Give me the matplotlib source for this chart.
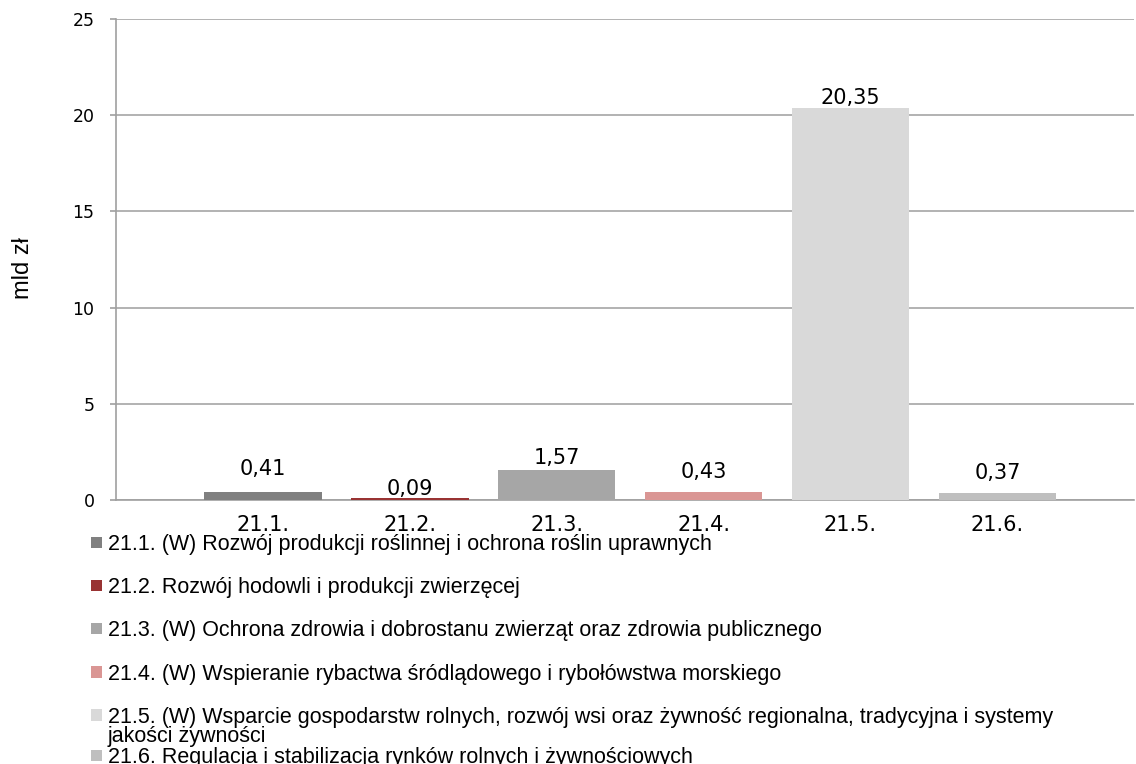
import matplotlib.pyplot as plt
from matplotlib.patches import Patch

codes = ["21.1.", "21.2.", "21.3.", "21.4.", "21.5.", "21.6."]
values = [0.41, 0.09, 1.57, 0.43, 20.35, 0.37]
value_labels = ["0,41", "0,09", "1,57", "0,43", "20,35", "0,37"]
legend_labels = [
	"21.1. (W) Rozwój produkcji roślinnej i ochrona roślin uprawnych",
	"21.2. Rozwój hodowli i produkcji zwierzęcej",
	"21.3. (W) Ochrona zdrowia i dobrostanu zwierząt oraz zdrowia publicznego",
	"21.4. (W) Wspieranie rybactwa śródlądowego i rybołówstwa morskiego",
	"21.5. (W) Wsparcie gospodarstw rolnych, rozwój wsi oraz żywność regionalna, tradycyjna i systemy",
	"21.6. Regulacja i stabilizacja rynków rolnych i żywnościowych",
]
legend_wrap = "jakości żywności"  # second line of the 21.5 entry
colors = ["#808080", "#993333", "#a6a6a6", "#da9694", "#d9d9d9", "#bfbfbf"]
yticks = [0, 5, 10, 15, 20, 25]

# label lift above bar top (points), as placed in the original
label_lift = [12, 2.2, 4.3, 10, 3, 10]

num_font = ["DejaVu Sans"]
txt_font = ["Liberation Sans", "DejaVu Sans"]

fig = plt.figure(figsize=(11.36, 7.64), dpi=100)
ax = fig.add_axes([116/1136, 1 - 500/764, (1134-116)/1136, (500-19)/764])

pos = list(range(1, len(codes) + 1))
ax.bar(pos, values, width=0.8, color=colors, zorder=3)
for x, v, lab, lift in zip(pos, values, value_labels, label_lift):
	ax.annotate(lab, (x, v), xytext=(0, lift), textcoords="offset points",
		ha="center", va="baseline", fontsize=15, family=num_font)

ax.set_xlim(0, 6.93)
ax.set_ylim(0, 25)
ax.set_yticks(yticks)
ax.set_yticklabels([str(t) for t in yticks], family=num_font, fontsize=12.5)
ax.set_xticks(pos)
ax.set_xticklabels(codes, family=num_font, fontsize=15)
ax.tick_params(axis="x", length=0, pad=10.5)
ax.tick_params(axis="y", length=4.5, color="#a0a0a0", width=1.2, pad=11)
ax.grid(axis="y", color="#a6a6a6", linewidth=1.2, zorder=0)
for s in ["top", "right"]:
	ax.spines[s].set_visible(False)
for s in ["left", "bottom"]:
	ax.spines[s].set_color("#a0a0a0")
	ax.spines[s].set_linewidth(1.2)

ax.set_ylabel("mld zł", fontsize=17, family=txt_font)
ax.yaxis.set_label_coords((34-116)/1018, 0.482)

handles = [Patch(facecolor=c) for c in colors]
blank = Patch(facecolor="none", edgecolor="none")
leg_kw = dict(bbox_transform=fig.transFigure, frameon=False, prop={"family": txt_font, "size": 15.5},
	handlelength=0.5, handleheight=0.45, handletextpad=0.28,
	borderpad=0, borderaxespad=0)
leg1 = ax.legend(handles[:5], legend_labels[:5], loc="upper left", labelspacing=1.03,
	bbox_to_anchor=(91/1136, 1 - 534/764), **leg_kw)
ax.add_artist(leg1)
# continuation line of 21.5 and the squeezed last entry
ax.legend([blank, handles[5]], [legend_wrap, legend_labels[5]], loc="center left", labelspacing=0,
	bbox_to_anchor=(91/1136, 1 - 747/764), **leg_kw)

fig.savefig("out.png", dpi=100)
